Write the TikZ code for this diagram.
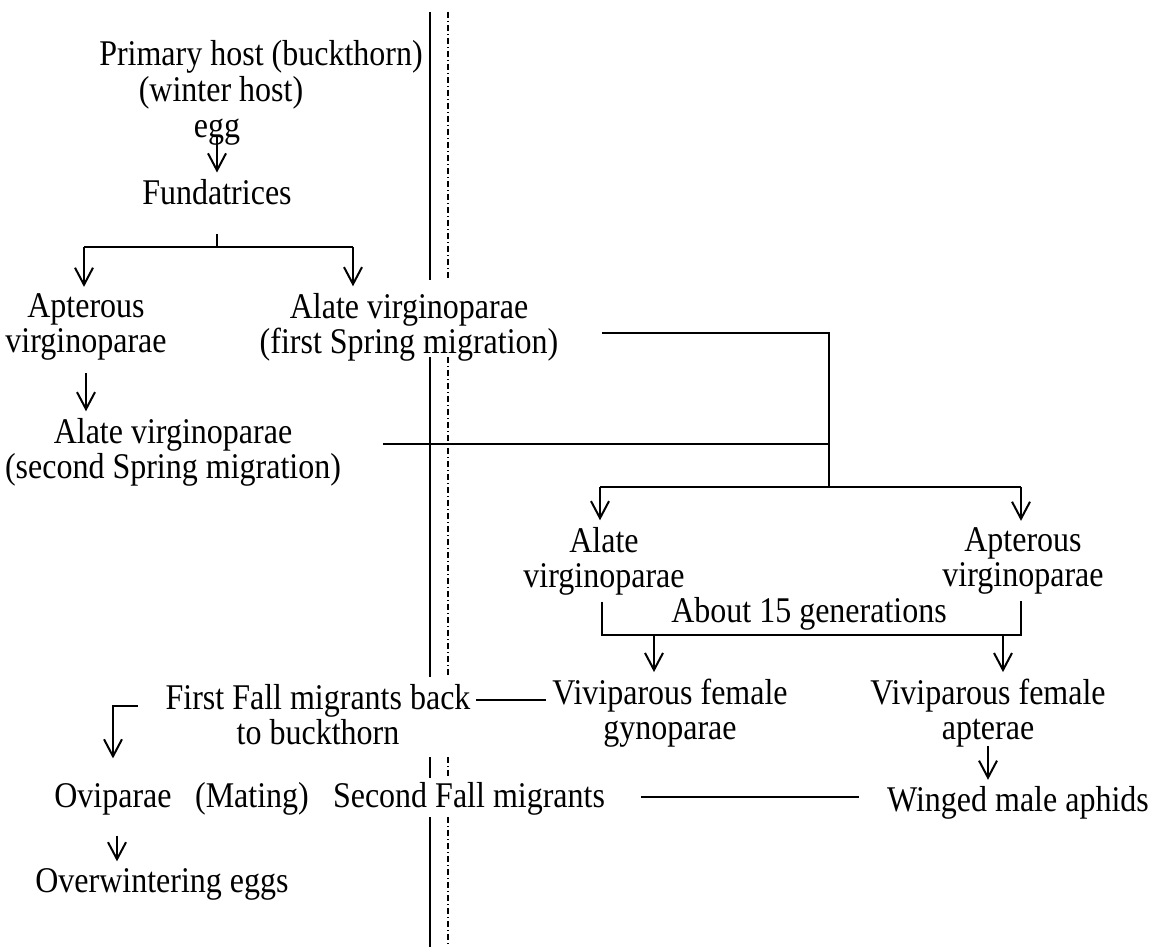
\documentclass[tikz,border=0pt]{standalone}
\usepackage{fontspec}
\setmainfont{Liberation Serif}
\usetikzlibrary{arrows.meta}

\begin{document}
\begin{tikzpicture}[x=0.5pt,y=-0.5pt,line width=1pt,
	lbl/.style={font=\fontsize{16}{15.5}\selectfont,align=center,inner sep=2.5pt,yscale=1.13},
	arr/.style={-{Straight Barb[length=8.5pt,width=9pt]}}]
	\useasboundingbox (0,0) rectangle (1156,947);
	% host line
	\foreach \a/\b in {12/280,357/677,757/778,817/947} {
		\draw (430,\a) -- (430,\b);
		\draw[line width=0.7pt,dash pattern=on 3pt off 1.5pt on 0.5pt off 1.5pt] (448,\a) -- (448,\b);
	}
	\node[lbl] (prim) at (261,57) {Primary host (buckthorn)};
	\node[lbl] (winter) at (221,93) {(winter host)};
	\node[lbl] (egg) at (217,132) {egg};
	\node[lbl] (fund) at (217,192) {Fundatrices};
	\node[lbl] (aptL) at (86,327) {Apterous\\virginoparae};
	\node[lbl] (alate1) at (409,327) {Alate virginoparae\\(first Spring migration)};
	\node[lbl] (alate2) at (173,452) {Alate virginoparae\\(second Spring migration)};
	\node[lbl] (alateR) at (604,561) {Alate\\virginoparae};
	\node[lbl] (aptR) at (1023,561) {Apterous\\virginoparae};
	\node[lbl] (gen) at (809,614) {About 15 generations};
	\node[lbl] (vivG) at (670,713) {Viviparous female\\gynoparae};
	\node[lbl] (vivA) at (988,713) {Viviparous female\\apterae};
	\node[lbl] (ffall) at (318,715) {First Fall migrants back\\to buckthorn};
	\node[lbl] (ovi) at (113,799) {Oviparae};
	\node[lbl] (mating) at (252,799) {(Mating)};
	\node[lbl] (sfall) at (469,799) {Second Fall migrants};
	\node[lbl] (winged) at (1018,803) {Winged male aphids};
	\node[lbl] (overw) at (162,884) {Overwintering eggs};
	% spring
	\draw[arr] (egg.base) -- (fund);
	\coordinate (fsplit) at (217,247);
	\coordinate (fl) at (84,247);
	\coordinate (fr) at (353,247);
	\draw (fund.south) ++(0,22) -- (fsplit);
	\draw (fl) -- (fr);
	\draw[arr] (fl) -- (fl |- aptL.north);
	\draw[arr] (fr) -- (fr |- alate1.north);
	\draw[arr,shorten <=3pt] (aptL.south) -- (aptL.south |- alate2.north);
	\coordinate (j1) at (829,333);
	\coordinate (j2) at (829,444);
	\coordinate (j3) at (829,487);
	\draw (alate1.east |- j1) ++(38,0) -- (j1) -- (j3);
	\draw (alate2.east |- j2) ++(36,0) -- (j2);
	% summer
	\coordinate (bl) at (600,487);
	\coordinate (br) at (1021,487);
	\draw (bl) -- (br);
	\draw[arr] (bl) -- (bl |- alateR.north);
	\draw[arr] (br) -- (br |- aptR.north);
	\coordinate (gl) at (602,635);
	\coordinate (gr) at (1021,635);
	\coordinate (ga) at (654,635);
	\coordinate (gb) at (1003,635);
	\draw (gl |- alateR.south) -- (gl) -- (gr) -- (gr |- aptR.south);
	\draw[arr] (ga) -- (ga |- vivG.north);
	\draw[arr] (gb) -- (gb |- vivA.north);
	\draw[arr,shorten <=-4pt] (vivA.south) -- (vivA.south |- winged.north);
	% fall
	\draw (ffall.east |- 0,700) -- (vivG.west |- 0,700);
	\draw[arr,shorten >=9pt] (ffall.west |- 0,706) ++(-22,0) -| (ovi.north);
	\draw[arr,shorten <=7pt] (ovi.south) ++(4,0) -- (117,0 |- overw.north);
	\draw[shorten <=15pt,shorten >=11pt] (sfall.east |- 0,797) -- (winged.west |- 0,797);
\end{tikzpicture}
\end{document}
